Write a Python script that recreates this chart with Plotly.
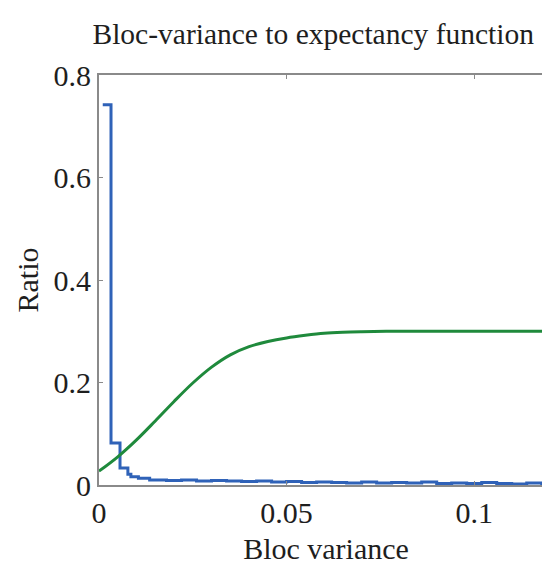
import plotly.graph_objects as go

# Blue step series (bloc variance -> ratio)
blue_x = [0.001, 0.0032, 0.0056, 0.0077, 0.0085, 0.0105, 0.0135, 0.018, 0.022, 0.026,
          0.030, 0.034, 0.038, 0.042, 0.046, 0.050, 0.054, 0.058, 0.062, 0.066,
          0.070, 0.074, 0.078, 0.082, 0.086, 0.090, 0.094, 0.098, 0.102, 0.106,
          0.110, 0.114, 0.118, 0.121]
blue_y = [0.742, 0.082, 0.033, 0.021, 0.016, 0.013, 0.010, 0.009, 0.010, 0.008,
          0.009, 0.008, 0.007, 0.008, 0.006, 0.007, 0.005, 0.006, 0.005, 0.004,
          0.006, 0.004, 0.005, 0.004, 0.006, 0.003, 0.004, 0.003, 0.005, 0.003,
          0.002, 0.004, 0.002, 0.002]

# Green smooth expectancy curve
green_x = [0.0, 0.005, 0.010, 0.015, 0.020, 0.025, 0.030, 0.035, 0.040, 0.045,
           0.050, 0.055, 0.060, 0.065, 0.070, 0.080, 0.090, 0.100, 0.110, 0.121]
green_y = [0.027, 0.055, 0.088, 0.125, 0.163, 0.199, 0.230, 0.254, 0.270, 0.280,
           0.287, 0.292, 0.296, 0.298, 0.299, 0.300, 0.300, 0.300, 0.300, 0.300]

x_ticks = [0, 0.05, 0.1]
x_tick_labels = ["0", "0.05", "0.1"]
y_ticks = [0, 0.2, 0.4, 0.6, 0.8]
y_tick_labels = ["0", "0.2", "0.4", "0.6", "0.8"]

FONT = "Liberation Serif, Times New Roman, serif"
TXT = "#1e1e1e"

fig = go.Figure()
fig.add_trace(go.Scatter(x=blue_x, y=blue_y, mode="lines", line_shape="hv",
                         line=dict(color="#2f62b8", width=3), showlegend=False))
fig.add_trace(go.Scatter(x=green_x, y=green_y, mode="lines", line_shape="spline",
                         line=dict(color="#1f8a3c", width=3), showlegend=False))

axis_common = dict(showline=True, linecolor="#8a8a8a", linewidth=2, mirror="ticks",
                   ticks="inside", ticklen=4, tickcolor="#8a8a8a", tickwidth=1,
                   showgrid=False, zeroline=False,
                   tickfont=dict(family=FONT, size=30, color=TXT))

fig.update_xaxes(range=[0, 0.121], tickvals=x_ticks, ticktext=x_tick_labels,
                 title=dict(text="Bloc variance", font=dict(family=FONT, size=30, color=TXT),
                            standoff=10),
                 **axis_common)
fig.update_yaxes(range=[0, 0.8], tickvals=y_ticks, ticktext=y_tick_labels,
                 title=dict(text="Ratio", font=dict(family=FONT, size=30, color=TXT),
                            standoff=6),
                 **axis_common)

fig.update_layout(
    width=550, height=567,
    margin=dict(l=91, r=3, t=67, b=90),
    paper_bgcolor="white", plot_bgcolor="white",
    title=dict(text="Bloc-variance to expectancy function", x=0.555, xanchor="center",
               y=0.955, yanchor="middle",
               font=dict(family=FONT, size=29.5, color=TXT)),
)

fig.write_html("out.html")
